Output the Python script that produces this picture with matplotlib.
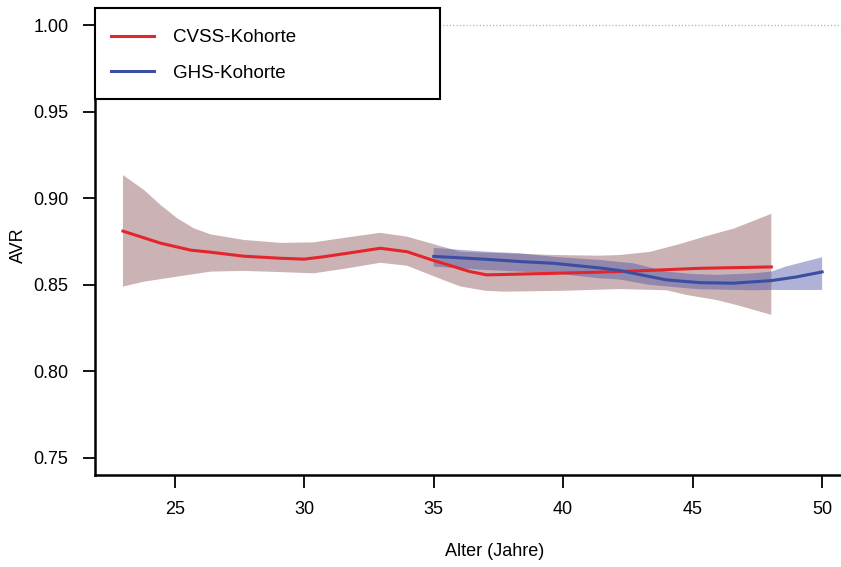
import numpy as np
import matplotlib.pyplot as plt
from matplotlib.patches import Rectangle

plt.rcParams['font.family'] = ['Liberation Sans', 'DejaVu Sans']

# CVSS cohort
cvss_age = [23.0, 24.46, 25.62, 26.39, 27.67, 29.09, 30.0, 30.76, 31.66, 32.94, 33.97, 35.0, 35.77, 36.4,
            37.05, 39.62, 42.19, 45.28, 48.04]
cvss_avr = [0.881, 0.874, 0.870, 0.8688, 0.8665, 0.8653, 0.8648, 0.8662, 0.8682, 0.8711, 0.8691, 0.864, 0.8605,
            0.8576, 0.8557, 0.8566, 0.8576, 0.8595, 0.8603]
cvss_up_age = [23.0, 23.82, 24.46, 25.1, 25.74, 26.39, 27.67, 29.09, 30.37, 31.4, 32.3, 32.94, 33.97, 34.87,
               36.03, 37.05, 39.62, 41.42, 42.19, 43.35, 44.5, 45.5, 46.6, 48.04]
cvss_upper = [0.9134, 0.9047, 0.896, 0.8884, 0.8826, 0.8791, 0.8759, 0.8742, 0.8745, 0.8768, 0.8787, 0.880,
              0.8778, 0.874, 0.8691, 0.8685, 0.8672, 0.8668, 0.8672, 0.869, 0.8735, 0.878, 0.8825, 0.891]
cvss_lo_age = [23.0, 23.82, 25.1, 26.39, 27.67, 29.09, 30.37, 31.66, 32.94, 33.97, 34.87, 35.5, 36.03, 37.0,
               37.7, 40.0, 42.19, 43.99, 44.76, 45.92, 46.69, 48.04]
cvss_lower = [0.8489, 0.8518, 0.8547, 0.8576, 0.858, 0.8573, 0.8566, 0.8595, 0.8627, 0.861, 0.8557, 0.852,
              0.849, 0.8465, 0.846, 0.8465, 0.8475, 0.8468, 0.8441, 0.8412, 0.8383, 0.8326]

# GHS cohort
ghs_age = [35.0, 37.05, 38.34, 39.62, 41.42, 42.19, 42.71, 43.99, 45.28, 46.56, 48.04, 49.0, 50.0]
ghs_avr = [0.8664, 0.8647, 0.8634, 0.8624, 0.8597, 0.8582, 0.8566, 0.8528, 0.8512, 0.8509, 0.8524, 0.8545, 0.8574]
ghs_up_age = [35.0, 37.05, 38.34, 39.62, 41.42, 42.71, 43.99, 45.0, 45.92, 47.33, 48.04, 48.6, 50.0]
ghs_upper = [0.8713, 0.8691, 0.8682, 0.8662, 0.8643, 0.8624, 0.8576, 0.8562, 0.8557, 0.8566, 0.8576, 0.8605, 0.8659]
ghs_lo_age = [35.0, 37.05, 38.34, 39.62, 41.42, 42.19, 43.35, 44.76, 45.28, 47.33, 48.04, 50.0]
ghs_lower = [0.8605, 0.8585, 0.8576, 0.8566, 0.8537, 0.853, 0.8499, 0.848, 0.8474, 0.8468, 0.847, 0.847]

xticks = [25, 30, 35, 40, 45, 50]
yticks = [0.75, 0.80, 0.85, 0.90, 0.95, 1.00]


def band(ax, up_x, up_y, lo_x, lo_y, **kw):
    xs = list(up_x) + list(lo_x)[::-1]
    ys = list(up_y) + list(lo_y)[::-1]
    ax.fill(xs, ys, lw=0, **kw)


fig = plt.figure(figsize=(8.41, 5.67), dpi=100)
ax = fig.add_axes([95 / 841, 1 - 475 / 567, 746 / 841, 467 / 567])

ax.axhline(1.0, color='#b0b0b0', lw=0.9, ls=':', zorder=0)
band(ax, cvss_up_age, cvss_upper, cvss_lo_age, cvss_lower, color=(0.6, 0.40, 0.42), alpha=0.5)
band(ax, ghs_up_age, ghs_upper, ghs_lo_age, ghs_lower, color=(0.30, 0.33, 0.65), alpha=0.45)
ax.plot(cvss_age, cvss_avr, color='#e3262b', lw=2.2, label='CVSS-Kohorte')
ax.plot(ghs_age, ghs_avr, color='#3b4ea2', lw=2.2, label='GHS-Kohorte')

ax.set_xlim(21.92, 50.73)
ax.set_ylim(0.74, 1.01)
ax.set_xticks(xticks)
ax.set_yticks(yticks)
ax.set_yticklabels(['%.2f' % v for v in yticks])
ax.tick_params(labelsize=13, length=9, width=1.3, pad=10)
for s in ['top', 'right']:
    ax.spines[s].set_visible(False)
for s in ['left', 'bottom']:
    ax.spines[s].set_linewidth(1.8)

fig.text(495 / 841, 1 - 551 / 567, 'Alter (Jahre)', ha='center', va='center', fontsize=13)
fig.text(18 / 841, 1 - 245 / 567, 'AVR', ha='center', va='center', rotation=90, fontsize=13)

# legend box
ax.add_patch(Rectangle((0, 1 - 91 / 467), 345 / 746, 91 / 467, transform=ax.transAxes,
                       facecolor='white', edgecolor='black', lw=1.5, zorder=5, clip_on=False))
leg = ax.legend(loc='upper left', bbox_to_anchor=(16 / 746, 1 - 21 / 467), frameon=False,
                fontsize=13.5, handlelength=2.3, handletextpad=1.0, labelspacing=1.0,
                borderpad=0, borderaxespad=0)
leg.set_zorder(6)

fig.savefig('out.png', dpi=100)
